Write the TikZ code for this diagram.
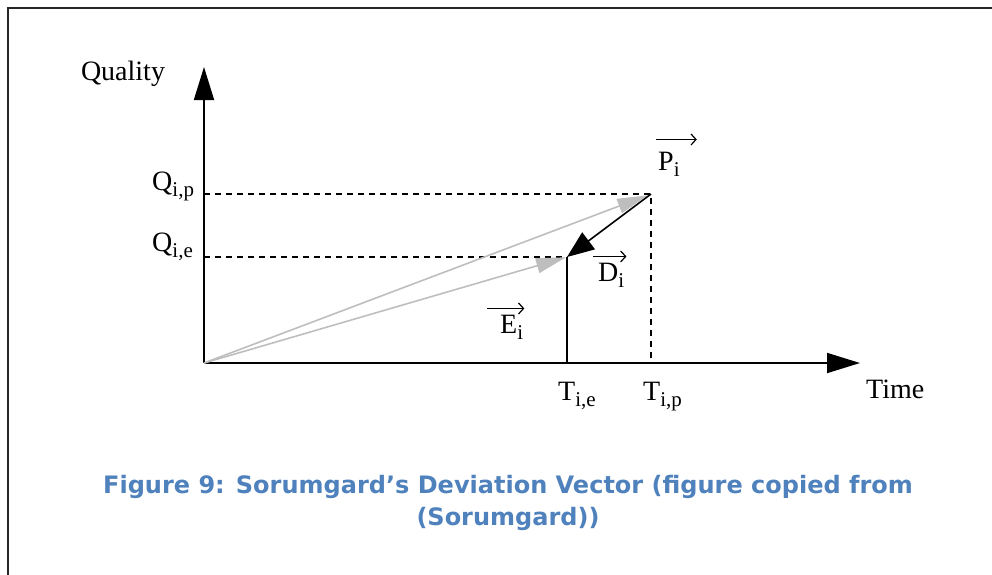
\documentclass[tikz,border=0pt]{standalone}
\usepackage{fontspec}
\setmainfont{Liberation Serif}
\newfontfamily\capfont{DejaVu Sans}
\usetikzlibrary{arrows.meta}
\definecolor{capblue}{RGB}{79,129,189}
\definecolor{vecgray}{RGB}{190,190,190}
\newcommand{\lsub}[1]{\raisebox{-6pt}{\fontsize{21}{21}\selectfont #1}}

\begin{document}
\begin{tikzpicture}[x=1pt, y=-1pt,
    every node/.style={font=\fontsize{28}{30}\selectfont, inner sep=0pt},
    axis/.style={line width=1.8pt, -{Triangle[length=33pt, width=20pt]}},
    guide/.style={line width=1.5pt, dash pattern=on 6pt off 5pt},
    graytip/.style={vecgray, line width=1.6pt, -{Triangle[length=30pt, width=15pt]}},
    devtip/.style={line width=1.6pt, -{Triangle[length=27pt, width=21pt]}},
    vecbar/.style={line width=1.2pt, -{Straight Barb[length=5pt, width=11pt]}}]
\useasboundingbox (0,0) rectangle (992,574);
\clip (0,0) rectangle (992,574);
\draw[line width=2pt, black!85] (8,8) rectangle (1100,700);

    \coordinate (O) at (204,363);
    \coordinate (ytop) at (204,67);
    \coordinate (xend) at (860,363);
    \coordinate (P) at (651,194);
    \coordinate (E) at (567,257);
    \coordinate (qp) at (204,194);
    \coordinate (qe) at (204,257);
    \coordinate (tp) at (651,363);
    \coordinate (te) at (567,363);

    \draw[axis] (O) -- (ytop);
    \draw[axis] (O) -- (xend);

    \draw[guide] (qp) -- (P) -- (tp);
    \draw[guide] (qe) -- (E);
    \draw[line width=1.6pt] (E) -- (te);

    \draw[graytip, shorten >=4pt] (O) -- (P);
    \draw[graytip, shorten >=1pt] (O) -- (E);
    \draw[devtip] (P) -- (E);

    \node[anchor=base] (quality) at (123,80) {Quality};
    \node[anchor=base west] (lqp) at (152,190) {Q\lsub{i,p}};
    \node[anchor=base west] (lqe) at (152,251) {Q\lsub{i,e}};
    \node[anchor=base west] (lte) at (558,400) {T\lsub{i,e}};
    \node[anchor=base west] (ltp) at (643,400) {T\lsub{i,p}};
    \node[anchor=base west] (time) at (866,398) {Time};

    \node[anchor=base west] (vp) at (658,170) {P\lsub{i}};
    \node[anchor=base west] (vd) at (598,281) {D\lsub{i}};
    \node[anchor=base west] (ve) at (500,333) {E\lsub{i}};
    \draw[vecbar] ([xshift=-2pt, yshift=12pt]vp.north west) -- ([xshift=17pt, yshift=12pt]vp.north east);
    \draw[vecbar] ([xshift=-5pt, yshift=6pt]vd.north west) -- ([xshift=2pt, yshift=6pt]vd.north east);
    \draw[vecbar] ([xshift=-13pt, yshift=6pt]ve.north west) -- ([xshift=1pt, yshift=6pt]ve.north east);

    \node[font=\capfont\bfseries\fontsize{24}{32}\selectfont, text=capblue, align=center]
        (caption) at (508,503) {Figure 9: Sorumgard’s Deviation Vector (figure copied from\\(Sorumgard))};
\end{tikzpicture}
\end{document}
